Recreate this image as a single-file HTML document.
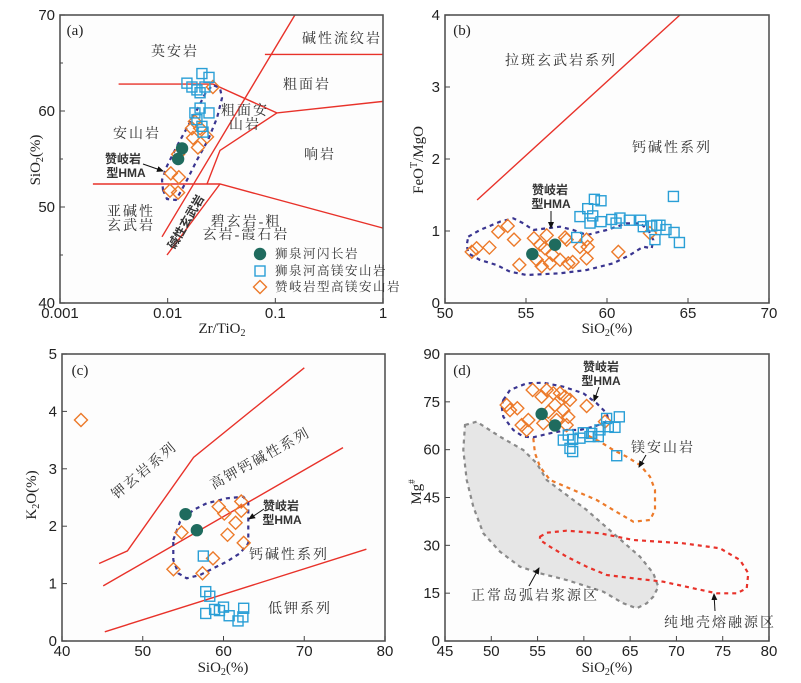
<!DOCTYPE html>
<html><head><meta charset="utf-8">
<style>
html,body{margin:0;padding:0;background:#fff;}
svg{display:block;}
.tk{font-family:"Liberation Sans",sans-serif;font-size:15px;fill:#222;}
.ti{font-family:"Liberation Serif",serif;font-size:15px;fill:#222;}
.cn{font-family:"Liberation Serif","Noto Serif CJK SC",serif;font-size:14px;fill:#333;letter-spacing:2px;}
.cb{font-family:"Liberation Sans","Noto Sans CJK SC",sans-serif;font-size:12px;fill:#333;font-weight:bold;}
.lg{font-family:"Liberation Serif","Noto Serif CJK SC",serif;font-size:12.5px;fill:#333;letter-spacing:1.5px;}
</style></head>
<body>
<svg id="fig" width="801" height="683" viewBox="0 0 801 683" xmlns="http://www.w3.org/2000/svg">
<defs><marker id="ah" markerWidth="8" markerHeight="8" refX="6" refY="3" orient="auto"><path d="M0,0 L7,3 L0,6 z" fill="#111"/></marker></defs>
</svg>
<script>
// ===== Panel (a) data =====
const aCircleX=[0.0136,0.0125];
const aCircleY=[56.1,55.0];
const aSquareX=[0.0151,0.0168,0.0187,0.0208,0.0242,0.0200,0.0222,0.0179,0.0200,0.0242,0.0208,0.0187,0.0213];
const aSquareY=[62.9,62.5,62.2,63.9,63.5,61.9,62.5,59.8,60.3,59.8,58.4,59.1,57.8];
const aDiamondX=[0.0263,0.0179,0.0168,0.0200,0.0172,0.0232,0.0191,0.0125,0.0107,0.0127,0.0105,0.0125];
const aDiamondY=[62.5,58.9,58.2,58.2,57.2,57.3,56.2,55.5,53.5,53.1,51.7,51.5];
const aXTicks=[0.001,0.01,0.1,1];
const aXTickLabels=["0.001","0.01","0.1","1"];
const aYTicks=[40,50,60,70];
const aBoundaries=[
 [[0.0035,62.8],[0.0263,62.8],[0.1035,59.8],[1,61.0]],
 [[0.00885,46.9],[0.152,70]],
 [[0.080,65.9],[1,65.9]],
 [[0.1035,59.8],[0.0306,55.9],[0.0232,52.4]],
 [[0.00202,52.4],[0.0306,52.4],[1,47.8]],
 [[0.0306,52.4],[0.00985,45]]
];
// ===== Panel (b) data =====
const bCircleX=[55.39,56.79];
const bCircleY=[0.68,0.81];
const bSquareX=[58.13,58.33,58.81,59.22,59.12,58.95,59.63,59.63,60.29,60.56,60.80,61.38,62.08,62.24,62.76,63.07,63.27,62.96,63.64,64.14,64.47,64.10];
const bSquareY=[0.91,1.20,1.31,1.44,1.21,1.11,1.42,1.13,1.16,1.11,1.18,1.15,1.15,1.06,1.07,1.08,1.08,0.88,1.02,0.98,0.84,1.48];
const bDiamondX=[51.65,51.95,52.74,53.29,53.87,54.26,54.59,55.49,55.86,56.28,56.17,55.66,55.97,56.48,56.64,57.10,57.41,57.51,57.61,57.88,58.33,58.74,58.81,58.74,60.70,62.65];
const bDiamondY=[0.71,0.76,0.77,0.99,1.07,0.88,0.53,0.90,0.81,0.94,0.76,0.60,0.51,0.55,0.67,0.60,0.91,0.88,0.55,0.57,0.78,0.88,0.78,0.62,0.71,0.97];
const bXTicks=[50,55,60,65,70];
const bYTicks=[0,1,2,3,4];
const bBoundaries=[[[51.98,1.43],[64.5,4.0]]];
// ===== Panel (c) data =====
const cCircleX=[55.3,56.7];
const cCircleY=[2.21,1.93];
const cSquareX=[57.5,57.8,58.3,57.8,58.9,59.5,60.0,60.7,61.8,62.4,62.5];
const cSquareY=[1.48,0.86,0.78,0.48,0.55,0.53,0.59,0.44,0.35,0.42,0.57];
const cDiamondX=[42.35,53.8,54.8,57.4,58.7,59.4,60.1,60.5,61.5,62.2,62.2,62.5];
const cDiamondY=[3.85,1.25,1.89,1.18,1.44,2.34,2.22,1.85,2.06,2.43,2.27,1.71];
const cXTicks=[40,50,60,70,80];
const cYTicks=[0,1,2,3,4,5];
const cBoundaries=[
 [[44.6,1.35],[48.1,1.57],[56.3,3.20],[70.0,4.76]],
 [[45.1,0.96],[74.8,3.37]],
 [[45.3,0.16],[77.7,1.60]]
];
// ===== Panel (d) data =====
const dCircleX=[55.44,56.88];
const dCircleY=[71.2,67.6];
const dSquareX=[57.78,58.32,58.79,58.50,58.79,59.94,59.58,60.66,61.56,61.74,62.46,62.64,63.36,63.83,63.55,60.85];
const dSquareY=[63.0,64.6,63.2,60.4,59.4,65.3,63.6,64.1,64.1,66.2,69.8,67.2,67.0,70.3,58.1,65.1];
const dDiamondX=[51.66,52.02,52.81,53.28,54.00,53.82,54.47,55.44,55.98,55.62,56.16,56.70,56.88,57.42,57.06,57.78,57.96,58.32,58.50,58.14,60.30,62.28];
const dDiamondY=[74.0,72.4,73.0,67.7,69.3,66.2,78.7,76.6,78.7,68.3,71.9,77.7,74.0,77.7,69.3,72.4,76.6,70.3,75.6,67.7,73.7,68.8];
const dXTicks=[45,50,55,60,65,70,75,80];
const dYTicks=[0,15,30,45,60,75,90];

const NS="http://www.w3.org/2000/svg";
const svg=document.getElementById('fig');
function mk(tag,attrs,parent){const e=document.createElementNS(NS,tag);for(const k in attrs)e.setAttribute(k,attrs[k]);(parent||svg).appendChild(e);return e;}
function txt(s,x,y,cls,anchor,parent){const t=mk('text',{x:x,y:y,class:cls,'text-anchor':anchor||'middle'},parent);t.textContent=s;return t;}

const BLUE="#2a9fd6",ORANGE="#ec7a2a",GREEN="#1f6b5e",RED="#e8322a",NAVY="#3a3590";

function panel(name,L,R,T,B,sx,sy,xt,xtl,yt,bounds){
  const g=mk('g',{});
  
  
  mk('rect',{x:L,y:T,width:R-L,height:B-T,fill:'#fdfdfd',stroke:'none'},g);
  bounds.forEach(function(pl){
    const p=mk('polyline',{points:pl.map(q=>sx(q[0]).toFixed(1)+','+sy(q[1]).toFixed(1)).join(' '),fill:'none',stroke:RED,'stroke-width':1.4},g);
    
    
  });
  return g;
}
function marks(g,cx,cy,qx,qy,dx,dy,sx,sy){
  dx.forEach(function(v,i){const x=sx(v),y=sy(dy[i]);
    const p=mk('polygon',{points:`${x},${y-6.5} ${x+6.5},${y} ${x},${y+6.5} ${x-6.5},${y}`,fill:'none',stroke:ORANGE,'stroke-width':1.4},g);
    
    });
  qx.forEach(function(v,i){const x=sx(v),y=sy(qy[i]);
    const p=mk('rect',{x:x-5,y:y-5,width:10,height:10,fill:'none',stroke:BLUE,'stroke-width':1.4},g);
    
    });
  cx.forEach(function(v,i){
    const p=mk('circle',{cx:sx(v),cy:sy(cy[i]),r:6.2,fill:GREEN},g);
    
    });
}
function frame(g,L,R,T,B,sx,sy,xt,xtl,yt,minorY){
  const f=mk('rect',{x:L,y:T,width:R-L,height:B-T,fill:'none',stroke:'#555','stroke-width':1.6},g);
  
  
  xt.forEach(function(v,i){const x=sx(v);
    mk('line',{x1:x,y1:B,x2:x,y2:B-5,stroke:'#444','stroke-width':1},g);
    const t=txt(xtl?xtl[i]:String(v),x,B+15,'tk','middle',g);
    
    });
  yt.forEach(function(v){const y=sy(v);
    mk('line',{x1:L,y1:y,x2:L+5,y2:y,stroke:'#444','stroke-width':1},g);
    const t=txt(String(v),L-5,y+5,'tk','end',g);
    
    });
  (minorY||[]).forEach(function(v){const y=sy(v);mk('line',{x1:L,y1:y,x2:L+3,y2:y,stroke:'#444','stroke-width':1},g);});
}
function dashed(g,pts,color,name,close,w){
  const d='M'+pts.map(p=>p[0]+','+p[1]).join(' L')+(close?' Z':'');
  const p=mk('path',{d:d,fill:'none',stroke:color,'stroke-width':w||2.2,'stroke-dasharray':'4,4','stroke-linejoin':'round'},g);
  
  
  return p;
}
function arrow(g,x1,y1,x2,y2){
  const a=mk('line',{x1:x1,y1:y1,x2:x2,y2:y2,stroke:'#111','stroke-width':1,'marker-end':'url(#ah)'},g);
  
  
}
function z(pts,ox,oy){return pts.map(p=>[ (ox+p[0]/3).toFixed(1), (oy+p[1]/3).toFixed(1)]);}

// ---- Panel a ----
(function(){
  const L=60,R=383,T=15,B=303;
  const sx=v=>L+(R-L)/3*Math.log10(v/0.001);
  const sy=v=>B-(v-40)*(B-T)/30;
  const g=panel('panel-a-tas',L,R,T,B,sx,sy,aXTicks,aXTickLabels,aYTicks,aBoundaries);
  dashed(g,[[163,190],[167,199],[176,200],[186,182],[197,160],[208,140],[217,118],[222,98],[220,88],[213,85],[206,92],[198,108],[188,126],[177,146],[167,166],[162,180]],NAVY,'hma-field-outline',true);
  marks(g,aCircleX,aCircleY,aSquareX,aSquareY,aDiamondX,aDiamondY,sx,sy);
  frame(g,L,R,T,B,sx,sy,aXTicks,aXTickLabels,aYTicks,[45,55,65]);
  const labs=[['英安岩',175,56],['碱性流纹岩',342,43],['粗面岩',307,89],['粗面安',245,115],['山岩',245,129],['安山岩',137,138],['响岩',320,159],['亚碱性',131,216],['玄武岩',131,230],['碧玄岩-粗',246,226],['玄岩-霞石岩',246,239]];
  labs.forEach(l=>{const t=txt(l[0],l[1],l[2],'cn','middle',g);});
  let t=txt('碱性玄武岩',186,226,'cb','middle',g);t.setAttribute('transform','rotate(-60 186 222)');
  t=txt('赞岐岩',123,163,'cb','middle',g);
  t=txt('型HMA',126,177,'cb','middle',g);
  arrow(g,143,164,163,171);
  t=txt('(a)',75,35,'ti','middle',g);
  t=mk('text',{x:222,y:333,class:'ti','text-anchor':'middle'},g);
  t.innerHTML='Zr/TiO<tspan font-size="10" dy="3">2</tspan>';
  
  t=mk('text',{x:0,y:0,class:'ti','text-anchor':'middle',transform:'translate(40 160) rotate(-90)'},g);
  t.innerHTML='SiO<tspan font-size="10" dy="3">2</tspan><tspan dy="-3">(%)</tspan>';
  
  const lg=mk('g',{},g);
  mk('circle',{cx:260,cy:254,r:6.2,fill:GREEN},lg);
  mk('rect',{x:255,y:266,width:10,height:10,fill:'none',stroke:BLUE,'stroke-width':1.4},lg);
  mk('polygon',{points:'260,280.5 266.5,287 260,293.5 253.5,287',fill:'none',stroke:ORANGE,'stroke-width':1.4},lg);
  txt('狮泉河闪长岩',275,258,'lg','start',lg);
  txt('狮泉河高镁安山岩',275,275,'lg','start',lg);
  txt('赞岐岩型高镁安山岩',275,291,'lg','start',lg);
})();

// ---- Panel b ----
(function(){
  const L=445,R=769,T=15,B=303;
  const sx=v=>L+(v-50)*(R-L)/20;
  const sy=v=>B-v*(B-T)/4;
  const g=panel('panel-b-feo-mgo',L,R,T,B,sx,sy,bXTicks,null,bYTicks,bBoundaries);
  dashed(g,z([[205,710],[240,690],[300,665],[340,655],[370,670],[400,690],[440,685],[480,680],[520,690],[560,705],[620,690],[680,670],[720,670],[745,690],[760,720],[755,745],[730,740],[690,765],[640,790],[560,810],[480,820],[380,825],[330,815],[290,795],[240,780],[205,760],[200,735]],400,0),NAVY,'hma-field-outline',true);
  marks(g,bCircleX,bCircleY,bSquareX,bSquareY,bDiamondX,bDiamondY,sx,sy);
  frame(g,L,R,T,B,sx,sy,bXTicks,null,bYTicks);
  let t=txt('拉斑玄武岩系列',561,65,'cn','middle',g);
  t=txt('钙碱性系列',672,152,'cn','middle',g);
  t=txt('赞岐岩',550,194,'cb','middle',g);
  t=txt('型HMA',551,208,'cb','middle',g);
  arrow(g,551,211,551,228);
  t=txt('(b)',462,35,'ti','middle',g);
  t=mk('text',{x:607,y:333,class:'ti','text-anchor':'middle'},g);t.innerHTML='SiO<tspan font-size="10" dy="3">2</tspan><tspan dy="-3">(%)</tspan>';
  
  t=mk('text',{x:0,y:0,class:'ti','text-anchor':'middle',transform:'translate(423 160) rotate(-90)'},g);
  t.innerHTML='FeO<tspan font-size="10" dy="-6">T</tspan><tspan dy="6">/MgO</tspan>';
  
})();

// ---- Panel c ----
(function(){
  const L=62,R=385,T=354,B=641;
  const sx=v=>L+(v-40)*(R-L)/40;
  const sy=v=>B-v*(B-T)/5;
  const g=panel('panel-c-k2o',L,R,T,B,sx,sy,cXTicks,null,cYTicks,cBoundaries);
  dashed(g,z([[520,600],[540,545],[580,510],[620,490],[680,475],[730,470],[745,490],[745,550],[745,610],[720,640],[680,665],[640,685],[600,705],[560,715],[535,700],[520,660]],0,340),NAVY,'hma-field-outline',true);
  marks(g,cCircleX,cCircleY,cSquareX,cSquareY,cDiamondX,cDiamondY,sx,sy);
  frame(g,L,R,T,B,sx,sy,cXTicks,null,cYTicks);
  let t=txt('钾玄岩系列',144,475,'cn','middle',g);t.setAttribute('transform','rotate(-40 144 470)');
  t=txt('高钾钙碱性系列',260,463,'cn','middle',g);t.setAttribute('transform','rotate(-29 260 458)');
  t=txt('钙碱性系列',289,559,'cn','middle',g);
  t=txt('低钾系列',300,613,'cn','middle',g);
  t=txt('赞岐岩',281,510,'cb','middle',g);
  t=txt('型HMA',282,524,'cb','middle',g);
  arrow(g,264,509,249,519);
  t=txt('(c)',80,375,'ti','middle',g);
  t=mk('text',{x:223,y:672,class:'ti','text-anchor':'middle'},g);t.innerHTML='SiO<tspan font-size="10" dy="3">2</tspan><tspan dy="-3">(%)</tspan>';
  
  t=mk('text',{x:0,y:0,class:'ti','text-anchor':'middle',transform:'translate(36 495) rotate(-90)'},g);
  t.innerHTML='K<tspan font-size="10" dy="3">2</tspan><tspan dy="-3">O(%)</tspan>';
  
})();

// ---- Panel d ----
(function(){
  const L=445,R=769,T=354,B=641;
  const sx=v=>L+(v-45)*(R-L)/35;
  const sy=v=>B-v*(B-T)/90;
  const g=panel('panel-d-mg-number',L,R,T,B,sx,sy,dXTicks,null,dYTicks,[]);
  const gp=z([[195,255],[230,245],[300,290],[370,330],[410,370],[440,420],[480,450],[560,510],[640,580],[720,650],[760,700],[775,740],[760,770],[740,790],[710,805],[670,790],[610,755],[500,720],[420,700],[360,680],[300,635],[250,580],[220,500],[200,420],[190,330]],400,340);
  const arc=mk('path',{d:'M'+gp.map(p=>p.join(',')).join(' L')+' Z',fill:'#e6e6e6',stroke:'#8a8a8a','stroke-width':2.2,'stroke-dasharray':'4,4'},g);
  
  dashed(g,z([[400,295],[405,340],[420,380],[450,420],[520,450],[590,480],[640,510],[700,545],[750,540],[765,510],[765,450],[750,410],[720,375],[680,350],[640,330],[600,305],[560,285]],400,340),ORANGE,'mg-andesite-field',false);
  dashed(g,z([[420,590],[440,578],[500,572],[600,580],[700,600],[850,610],[960,625],[1020,660],[1045,700],[1040,745],[1010,760],[950,760],[880,745],[790,725],[700,715],[620,705],[560,680],[500,650],[450,620],[420,600]],400,340),RED,'crustal-melting-field',true);
  dashed(g,z([[310,180],[330,150],[380,130],[430,128],[490,140],[550,160],[590,190],[620,220],[625,240],[610,250],[580,260],[540,270],[500,270],[450,280],[400,292],[370,290],[340,270],[310,230],[305,200]],400,340),NAVY,'hma-field-outline',true);
  marks(g,dCircleX,dCircleY,dSquareX,dSquareY,dDiamondX,dDiamondY,sx,sy);
  frame(g,L,R,T,B,sx,sy,dXTicks,null,dYTicks);
  let t=txt('赞岐岩',601,371,'cb','middle',g);
  t=txt('型HMA',601,385,'cb','middle',g);
  arrow(g,599,387,594,401);
  t=txt('镁安山岩',663,452,'cn','middle',g);
  arrow(g,646,455,639,467);
  t=txt('正常岛弧岩浆源区',535,600,'cn','middle',g);
  arrow(g,529,586,539,568);
  t=txt('纯地壳熔融源区',720,627,'cn','middle',g);
  arrow(g,715,611,714,594);
  t=txt('(d)',462,375,'ti','middle',g);
  t=mk('text',{x:607,y:672,class:'ti','text-anchor':'middle'},g);t.innerHTML='SiO<tspan font-size="10" dy="3">2</tspan><tspan dy="-3">(%)</tspan>';
  
  t=mk('text',{x:0,y:0,class:'ti','text-anchor':'middle',transform:'translate(421 492) rotate(-90)'},g);
  t.innerHTML='Mg<tspan font-size="9" dy="-6">#</tspan>';
  
})();
</script>
</body></html>
